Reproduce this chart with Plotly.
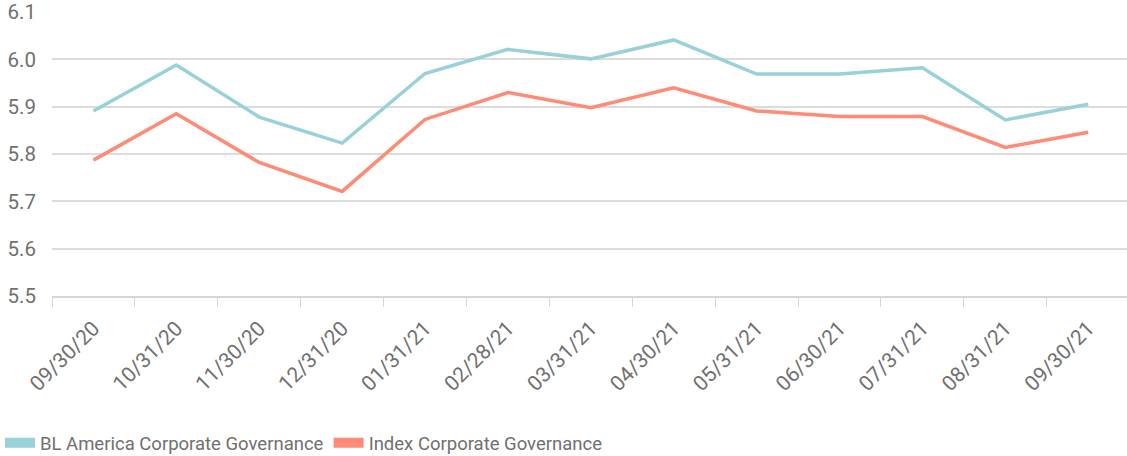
import plotly.graph_objects as go

dates = ["09/30/20", "10/31/20", "11/30/20", "12/31/20", "01/31/21", "02/28/21", "03/31/21",
         "04/30/21", "05/31/21", "06/30/21", "07/31/21", "08/31/21", "09/30/21"]
bl_america = [5.891, 5.988, 5.878, 5.823, 5.970, 6.021, 6.001, 6.041, 5.969, 5.969, 5.982, 5.872, 5.905]
index_cg = [5.787, 5.885, 5.782, 5.721, 5.873, 5.930, 5.898, 5.940, 5.891, 5.879, 5.879, 5.814, 5.846]

names = ["BL America Corporate Governance", "Index Corporate Governance"]
colors = ["#98D1D7", "#FF8A76"]
series = [bl_america, index_cg]

fig = go.Figure()
for name, col, vals in zip(names, colors, series):
    fig.add_trace(go.Scatter(x=dates, y=vals, mode="lines", name=name,
                             line=dict(color=col, width=3.5), showlegend=False,
                             hoverinfo="x+y"))
for name, col in zip(names, colors):
    fig.add_trace(go.Scatter(x=[None], y=[None], mode="lines", name=name,
                             line=dict(color=col, width=12), showlegend=True))

font_family = "Roboto, sans-serif"
fig.update_layout(
    width=1127, height=456,
    margin=dict(l=52, r=0, t=12, b=160),
    plot_bgcolor="white", paper_bgcolor="white",
    font=dict(family=font_family, color="#707070", size=18),
    showlegend=True,
    legend=dict(orientation="h", xref="container", yref="container",
                x=-0.01, y=0.028, xanchor="left", yanchor="middle",
                font=dict(size=18.5, color="#707070"), itemwidth=30,
                tracegroupgap=0),
    xaxis=dict(type="category", range=[-0.5, 12.468], showgrid=False, automargin=False,
               showline=True, linecolor="#d6d6d6", linewidth=1.5,
               ticks="outside", tickson="boundaries", ticklen=9, tickcolor="#d6d6d6",
               tickangle=-45, ticklabelstandoff=10,
               tickfont=dict(size=21, color="#707070")),
    yaxis=dict(range=[5.5, 6.1], dtick=0.1, tickformat=".1f", showgrid=True, automargin=False,
               gridcolor="#dcdcdc", gridwidth=1.5, zeroline=False, showline=False,
               ticks="", ticklabelstandoff=15, tickfont=dict(size=20.5, color="#707070")),
)

fig.write_html("out.html", config={"displayModeBar": False},
               post_script="document.body.style.margin='0';document.body.style.overflow='hidden';")
